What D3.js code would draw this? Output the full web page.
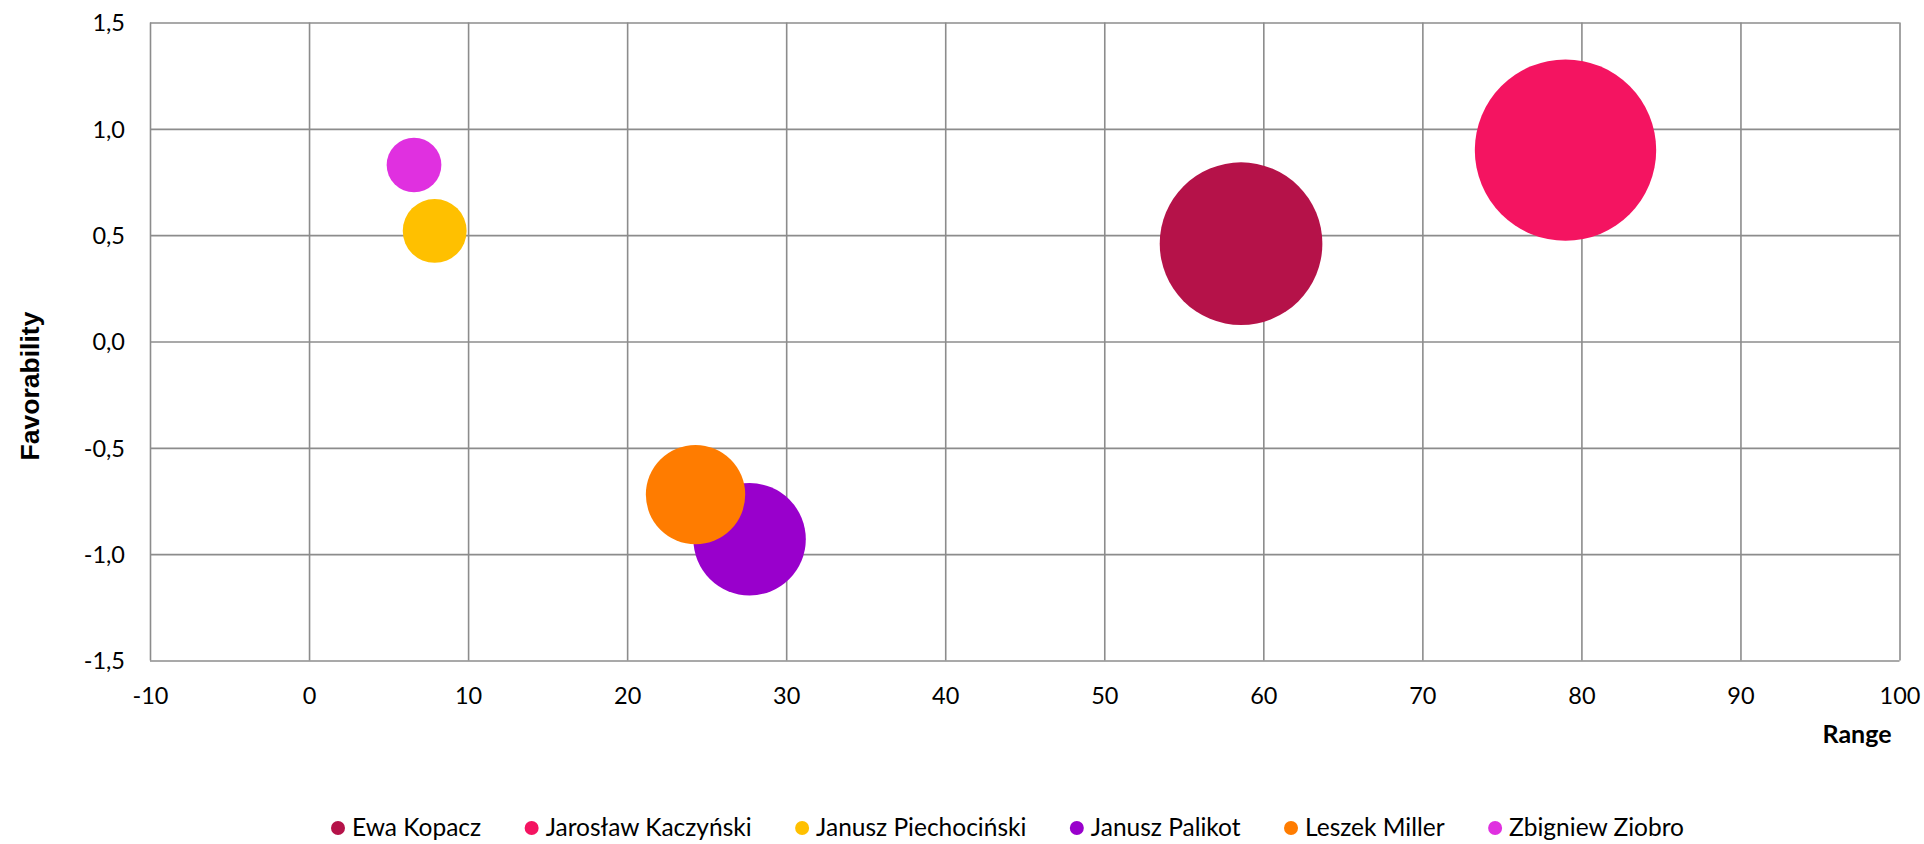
<!DOCTYPE html>
<html>
<head>
<meta charset="utf-8">
<script src="https://cdn.jsdelivr.net/npm/d3@7"></script>
<style>
  html, body { margin: 0; padding: 0; background: #fff; }
  svg { display: block; }
</style>
</head>
<body>
<svg id="chart" width="1924" height="844"></svg>
<script>
// ---- data ----
const names = ["Ewa Kopacz", "Jarosław Kaczyński", "Janusz Piechociński", "Janusz Palikot", "Leszek Miller", "Zbigniew Ziobro"];
const rangeValues = [58.6, 79.0, 7.9, 27.7, 24.3, 6.6];
const favorValues = [0.46, 0.90, 0.52, -0.93, -0.72, 0.83];
const bubbleSizes = [80.4, 100, 12.4, 38.4, 30.0, 9.1];
const colors = ["#B51249", "#F41461", "#FFC000", "#9900CC", "#FF7C00", "#E030E0"];
const xTicks = [-10, 0, 10, 20, 30, 40, 50, 60, 70, 80, 90, 100];
const yTicks = [-1.5, -1.0, -0.5, 0.0, 0.5, 1.0, 1.5];
const xTitle = "Range";
const yTitle = "Favorability";

const svg = d3.select("#chart");
const plot = { left: 150, right: 1899.5, top: 22.5, bottom: 660.5 };
const labelFont = "Lato, 'Open Sans', sans-serif";
const gridColor = "#8c8c8c";

const x = d3.scaleLinear().domain([-10, 100]).range([plot.left, plot.right]);
const y = d3.scaleLinear().domain([-1.5, 1.5]).range([plot.bottom, plot.top]);
const r = d3.scaleSqrt().domain([0, 100]).range([0, 90.7]);
const fmt = v => d3.format(".1f")(v).replace(".", ",").replace("−", "-");

// grid
const xAxisG = svg.append("g")
  .attr("transform", `translate(0,${plot.bottom})`)
  .call(d3.axisBottom(x).tickValues(xTicks).tickSize(-(plot.bottom - plot.top)).tickSizeOuter(0).tickFormat(d => String(d)));
xAxisG.select(".domain").remove();
xAxisG.selectAll(".tick line").attr("stroke", gridColor).attr("stroke-width", 1.6);
xAxisG.selectAll(".tick text")
  .attr("font-family", labelFont).attr("font-size", 23.5).attr("fill", "#000")
  .attr("y", 0).attr("dy", 0)
  .attr("transform", "translate(0,43)");

const yAxisG = svg.append("g")
  .attr("transform", `translate(${plot.left},0)`)
  .call(d3.axisLeft(y).tickValues(yTicks).tickSize(-(plot.right - plot.left)).tickSizeOuter(0).tickFormat(fmt));
yAxisG.select(".domain").remove();
yAxisG.selectAll(".tick line").attr("stroke", gridColor).attr("stroke-width", 1.6);
yAxisG.selectAll(".tick text")
  .attr("font-family", labelFont).attr("font-size", 23.5).attr("fill", "#000")
  .attr("x", -25).attr("dy", "0.36em");

// bubbles
const data = names.map((n, i) => ({ name: n, x: rangeValues[i], y: favorValues[i], s: bubbleSizes[i], c: colors[i] }));
svg.append("g").selectAll("circle").data(data).join("circle")
  .attr("cx", d => x(d.x))
  .attr("cy", d => y(d.y))
  .attr("r", d => r(d.s))
  .attr("fill", d => d.c);

// axis titles
svg.append("text")
  .attr("x", 1857).attr("y", 743)
  .attr("text-anchor", "middle")
  .attr("font-family", labelFont).attr("font-weight", "bold").attr("font-size", 25)
  .text(xTitle);

svg.append("text")
  .attr("transform", "translate(39,386) rotate(-90)")
  .attr("text-anchor", "middle")
  .attr("font-family", "'Liberation Sans', Arial, sans-serif").attr("font-weight", "bold").attr("font-size", 26.5)
  .text(yTitle);

// legend
const legendLeft = 331, legendRight = 1684;
const legend = svg.append("g");
const items = legend.selectAll("g").data(data).join("g");
items.append("circle").attr("r", 7).attr("cx", 7).attr("cy", -8).attr("fill", d => d.c);
items.append("text").attr("x", 21).attr("y", 0)
  .attr("font-family", labelFont).attr("font-size", 24.5).attr("fill", "#000")
  .text(d => d.name);
const widths = [];
items.each(function () { widths.push(21 + this.querySelector("text").getComputedTextLength()); });
const gap = (legendRight - legendLeft - d3.sum(widths)) / (widths.length - 1);
const offsets = [];
widths.reduce((acc, w) => { offsets.push(acc); return acc + w + gap; }, legendLeft);
items.attr("transform", (d, i) => `translate(${offsets[i]},836)`);
</script>
</body>
</html>
